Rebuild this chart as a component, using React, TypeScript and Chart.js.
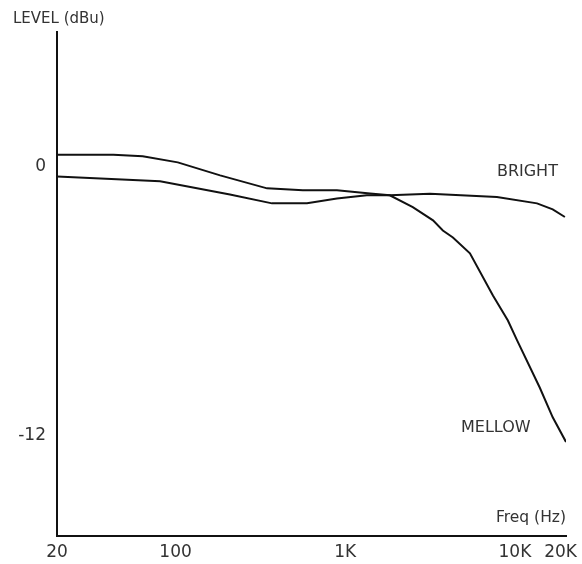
import React, { useEffect, useRef } from "react";
import { Chart, registerables } from "chart.js";

Chart.register(...registerables);

// ---- data ----
const mellowFreq = [20, 43, 64, 103, 183, 346, 563, 893, 1400, 1830, 2500, 3290, 3760, 4310, 5430, 7420, 9090, 10300, 14000, 16700, 20000];
const mellowLevel = [0.52, 0.52, 0.45, 0.18, -0.4, -0.98, -1.07, -1.07, -1.21, -1.29, -1.82, -2.41, -2.86, -3.17, -3.88, -5.76, -6.88, -7.77, -9.87, -11.2, -12.3];

const brightFreq = [20, 81, 209, 370, 595, 893, 1340, 1830, 3160, 7830, 13500, 16700, 19700];
const brightLevel = [-0.45, -0.66, -1.25, -1.65, -1.64, -1.43, -1.29, -1.29, -1.22, -1.37, -1.65, -1.92, -2.26];

const seriesNames = ["MELLOW", "BRIGHT"];

const xTickValues = [20, 100, 1000, 10000, 20000];
const xTickLabels = ["20", "100", "1K", "10K", "20K"];
const yTickValues = [0, -12];
const yTickLabels = ["0", "-12"];

const yTitle = "LEVEL (dBu)";
const xTitle = "Freq (Hz)";

// label anchors in data units (Hz, dBu)
const seriesLabelAnchors = [
  { text: "BRIGHT", x: 7830, y: -0.25, align: "left" },
  { text: "MELLOW", x: 4810, y: -11.67, align: "left" },
];

const FONT = '"DejaVu Sans", sans-serif';
const TEXT = "#333333";
const LINE = "#111111";

const toPoints = (xs: number[], ys: number[]) => xs.map((x, i) => ({ x, y: ys[i] }));

const textPlugin = {
  id: "freqTexts",
  afterDraw(chart: any) {
    const { ctx, chartArea, width } = chart;
    const xs = chart.scales.x;
    const ys = chart.scales.y;
    ctx.save();
    ctx.fillStyle = TEXT;
    ctx.textBaseline = "middle";

    // y axis title, top-left
    ctx.font = `15px ${FONT}`;
    ctx.textAlign = "left";
    ctx.fillText(yTitle, 13, chartArea.top - 13);

    // x tick labels
    ctx.font = `17px ${FONT}`;
    ctx.textAlign = "center";
    xTickValues.forEach((v, i) => {
      const label = xTickLabels[i];
      const w = ctx.measureText(label).width;
      let cx = xs.getPixelForValue(v);
      cx = Math.min(cx, width - 5 - w / 2);
      ctx.fillText(label, cx, chartArea.bottom + 17);
    });

    // x axis title, right end above axis
    ctx.font = `15.5px ${FONT}`;
    ctx.textAlign = "right";
    ctx.fillText(xTitle, chartArea.right, chartArea.bottom - 18);

    // series labels
    ctx.font = `16px ${FONT}`;
    seriesLabelAnchors.forEach((a) => {
      ctx.textAlign = a.align;
      ctx.fillText(a.text, xs.getPixelForValue(a.x), ys.getPixelForValue(a.y));
    });
    ctx.restore();
  },
};

export default function App() {
  const ref = useRef<HTMLCanvasElement | null>(null);

  useEffect(() => {
    if (!ref.current) return;
    const chart = new Chart(ref.current, {
      type: "line",
      data: {
        datasets: [
          {
            label: seriesNames[0],
            data: toPoints(mellowFreq, mellowLevel),
            borderColor: LINE,
            borderWidth: 2,
            pointRadius: 0,
            tension: 0,
            fill: false,
          },
          {
            label: seriesNames[1],
            data: toPoints(brightFreq, brightLevel),
            borderColor: LINE,
            borderWidth: 2,
            pointRadius: 0,
            tension: 0,
            fill: false,
          },
        ],
      },
      options: {
        responsive: false,
        animation: false,
        layout: { padding: { top: 32, right: 16, left: 0, bottom: 0 } },
        plugins: {
          legend: { display: false },
          tooltip: { enabled: false },
          title: { display: false },
        },
        scales: {
          x: {
            type: "logarithmic",
            min: 20,
            max: 20000,
            grid: { display: false, drawTicks: false },
            border: { display: true, color: LINE, width: 2 },
            ticks: { display: false },
            afterFit: (s: any) => {
              s.height = 28;
              s.paddingLeft = 0;
              s.paddingRight = 0;
            },
          },
          y: {
            type: "linear",
            min: -16.5,
            max: 6,
            grid: { display: false, drawTicks: false },
            border: { display: true, color: LINE, width: 2 },
            afterBuildTicks: (s: any) => {
              s.ticks = yTickValues.map((v) => ({ value: v }));
            },
            ticks: {
              padding: 11,
              color: TEXT,
              font: { family: FONT, size: 17 },
              callback: (v: any) => {
                const i = yTickValues.indexOf(Number(v));
                return i >= 0 ? yTickLabels[i] : "";
              },
            },
            afterFit: (s: any) => {
              s.width = 57;
            },
          },
        },
      },
      plugins: [textPlugin],
    } as any);
    return () => chart.destroy();
  }, []);

  return (
    <div style={{ position: "absolute", left: 0, top: 0, width: 582, height: 564, background: "#fff" }}>
      <canvas ref={ref} width={582} height={564} />
    </div>
  );
}
